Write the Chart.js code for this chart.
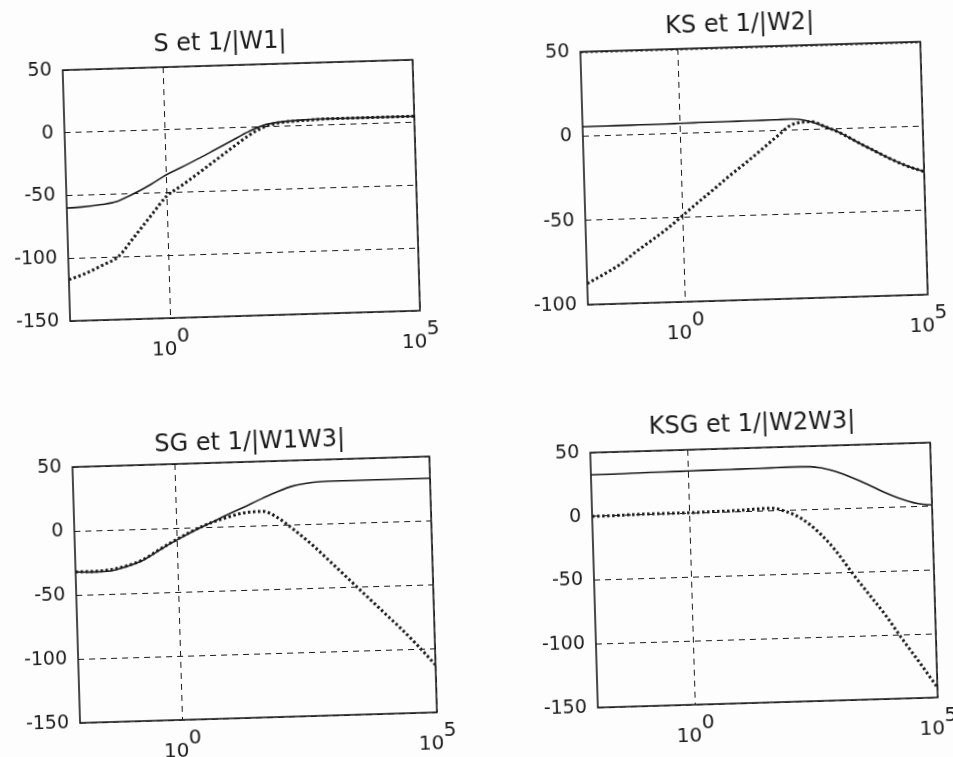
<!DOCTYPE html>
<html>
<head>
<meta charset="utf-8">
<title>S, KS, SG, KSG</title>
<script src="https://cdn.jsdelivr.net/npm/chart.js@4.4.1/dist/chart.umd.min.js"></script>
<style>
  html, body { margin: 0; padding: 0; background: #fdfdfd; overflow: hidden; }
  #page { position: relative; width: 953px; height: 757px; transform: rotate(-1.7deg); transform-origin: 476px 378px; }
  #page canvas { position: absolute; }
</style>
</head>
<body>
<div id="page">
  <canvas id="c1"></canvas>
  <canvas id="c2"></canvas>
  <canvas id="c3"></canvas>
  <canvas id="c4"></canvas>
</div>
<script>
// frequences (rad/s), meme grille pour les 4 courbes
const freq = [0.01, 0.02, 0.05, 0.1, 0.2, 0.5, 1, 2, 5, 10, 20, 50, 100, 200, 500, 1000, 2000, 5000, 10000, 20000, 50000, 100000];

// gains en dB
const sMag    = [-60, -59.5, -58, -56, -51, -43, -36, -30.5, -23, -17, -11, -3, 1.5, 3.5, 4.5, 5, 5, 5, 5, 5, 5, 5];
const w1Inv   = [-117, -113, -106, -100, -86, -67, -53, -45, -34, -25.5, -17, -6, 0, 3, 4, 4.5, 5, 5, 5, 5, 5, 5];

const ksMag   = [5.5, 5.5, 5.6, 5.6, 5.7, 5.7, 5.8, 5.9, 6, 6, 6.1, 6.2, 6.3, 6.4, 4.5, 1.2, -2.7, -9.3, -14, -18.7, -24, -27];
const w2Low   = [-87.5, -83, -76.5, -70, -64, -56, -49, -42, -33, -26, -19.5, -10.5, -3.5, 3, 4.5, 1.2, -2.7, -9.3, -14, -18.7, -24, -27];
const w2Inv   = [50, 50, 50, 50, 50, 50, 50, 50, 50, 50, 50, 50, 50, 50, 50, 50, 50, 50, 50, 50, 50, 50];

const sgMag   = [-32, -32.5, -32, -29, -25, -16, -9.5, -3.5, 3.6, 9, 14, 21, 26, 30, 32.4, 33, 33, 33, 33, 33, 33, 33];
const w13Inv  = [-32, -32, -31, -28.5, -24.5, -15.5, -9, -3, 3.5, 7, 10, 11, 5.5, -4, -18, -30, -42, -58, -70, -82, -99, -113];

const ksgMag  = [32.5, 32.6, 32.8, 33, 33.1, 33.2, 33.3, 33.4, 33.5, 33.6, 33.7, 33.8, 34, 34, 33, 30, 25.5, 18.5, 12.5, 7.5, 2.5, 1];
const w23Inv  = [0, 0, 0.3, 0.5, 0.5, 0.5, 0.5, 0.8, 1, 1.2, 1.8, 2.2, -0.8, -6.5, -19.5, -33, -49.5, -70, -85.5, -103, -125, -142];

const titles = ['S et 1/|W1|', 'KS et 1/|W2|', 'SG et 1/|W1W3|', 'KSG et 1/|W2W3|'];
const yMin = [-150, -100, -150, -150];
const yMax = [50, 50, 50, 50];

// graduations x : 10^0 et 10^5 (exposant sur la ligne du dessus)
const xTicks = [1, 100000];
const xTickLabels = [['    0', '10  '], ['    5', '10  ']];

const ink = '#1b1b1b';
const font = "'DejaVu Sans', Arial, sans-serif";

const frame = {
    id: 'frame',
    beforeDatasetsDraw(chart) {
        const a = chart.chartArea;
        const ctx = chart.ctx;
        ctx.save();
        ctx.strokeStyle = ink;
        ctx.lineWidth = 1.6;
        ctx.strokeRect(a.left, a.top, a.right - a.left, a.bottom - a.top);
        ctx.restore();
    }
};

function serie(values, dotted) {
    return {
        data: freq.map((f, i) => ({ x: f, y: values[i] })),
        borderColor: ink,
        borderWidth: dotted ? 3 : 1.6,
        borderDash: dotted ? [2.5, 2.5] : [],
        pointRadius: 0,
        cubicInterpolationMode: 'monotone',
        fill: false
    };
}

function makeChart(id, k, series, g) {
    const canvas = document.getElementById(id);
    canvas.width = g.w;
    canvas.height = g.h;
    canvas.style.left = g.cx + 'px';
    canvas.style.top = g.cy + 'px';

    return new Chart(canvas.getContext('2d'), {
        type: 'line',
        data: { datasets: series },
        options: {
            responsive: false,
            animation: false,
            devicePixelRatio: 1,
            layout: { padding: { left: 0, right: g.pr, top: 0, bottom: 0 } },
            plugins: {
                legend: { display: false },
                tooltip: { enabled: false },
                title: {
                    display: true,
                    text: titles[k],
                    color: ink,
                    font: { family: font, size: 24, weight: 'normal' },
                    padding: { top: g.tt, bottom: g.tb }
                }
            },
            scales: {
                x: {
                    type: 'logarithmic',
                    min: 0.01,
                    max: 100000,
                    afterBuildTicks: s => { s.ticks = xTicks.map(v => ({ value: v })); },
                    afterFit: s => { s.height = g.xh; },
                    grid: { color: ink, lineWidth: 1, drawTicks: false },
                    border: { display: false, dash: [6, 5] },
                    ticks: {
                        autoSkip: false,
                        maxRotation: 0,
                        padding: 12.5,
                        color: ink,
                        font: { family: font, size: 20, lineHeight: 0.65 },
                        callback: v => xTickLabels[xTicks.indexOf(v)]
                    }
                },
                y: {
                    min: yMin[k],
                    max: yMax[k],
                    afterFit: s => { s.width = 60; },
                    grid: { color: ink, lineWidth: 1, drawTicks: false },
                    border: { display: false, dash: [6, 5] },
                    ticks: {
                        stepSize: 50,
                        padding: 11,
                        color: ink,
                        font: { family: font, size: 19 },
                        callback: v => String(v)
                    }
                },
                // axe vide a droite : decale le titre comme sur la figure
                y2: {
                    position: 'right',
                    grid: { display: false },
                    border: { display: false },
                    ticks: { display: false },
                    afterFit: s => { s.width = g.w2; }
                }
            }
        },
        plugins: [frame]
    });
}

makeChart('c1', 0, [serie(sMag, false), serie(w1Inv, true)],
    { cx: 12, cy: 0, w: 446, h: 378, w2: 26, pr: 10, tt: 21.6, tb: 7.6, xh: 69 });
makeChart('c2', 1, [serie(ksMag, false), serie(w2Low, true), serie(w2Inv, true)],
    { cx: 530, cy: 0, w: 440, h: 378, w2: 40, pr: 0, tt: 18.6, tb: 7.6, xh: 70 });
makeChart('c3', 2, [serie(sgMag, false), serie(w13Inv, true)],
    { cx: 10, cy: 378, w: 476, h: 379, w2: 59, pr: 0, tt: 43.6, tb: 4.6, xh: 46 });
makeChart('c4', 3, [serie(ksgMag, false), serie(w23Inv, true)],
    { cx: 528, cy: 378, w: 445, h: 379, w2: 45, pr: 0, tt: 40.6, tb: 8.6, xh: 46 });
</script>
</body>
</html>
